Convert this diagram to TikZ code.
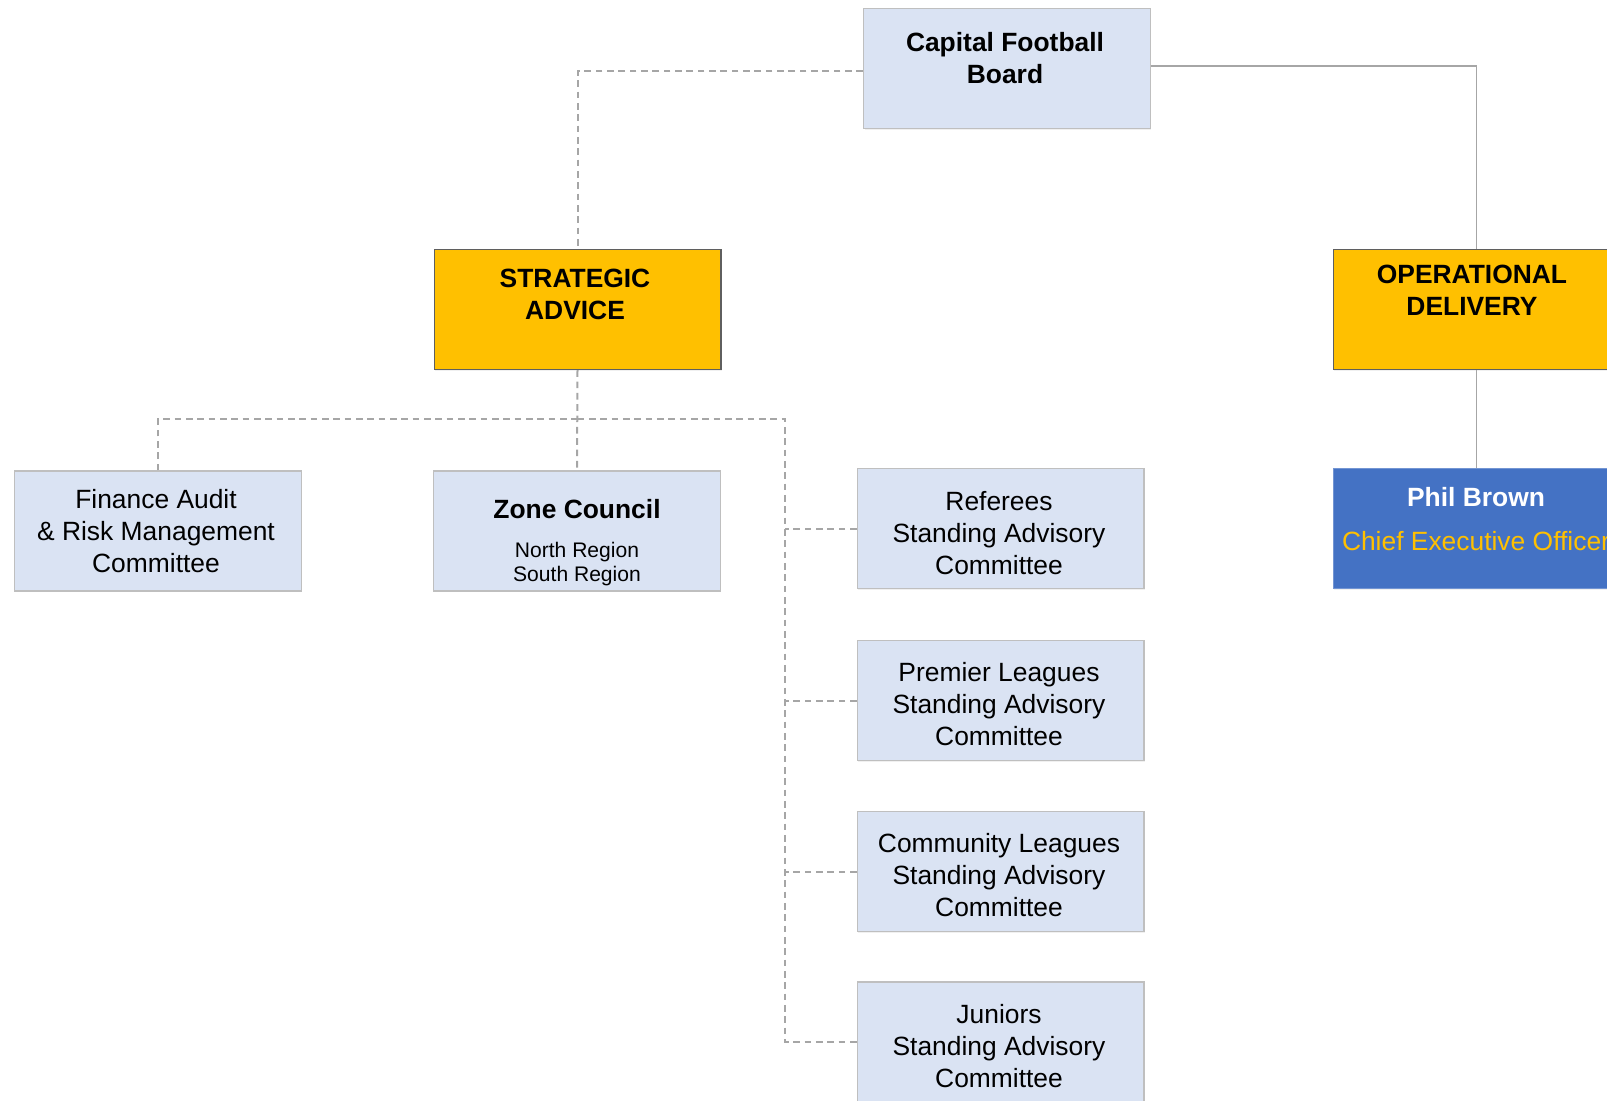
\documentclass[tikz,border=0pt]{standalone}
\usepackage{fontspec}
\setmainfont{Liberation Sans}
\usetikzlibrary{shadows}
\definecolor{boxblue}{HTML}{DAE3F3}
\definecolor{boxline}{HTML}{BFBFBF}
\definecolor{gold}{HTML}{FFC000}
\definecolor{darkline}{HTML}{5F5F5F}
\definecolor{ceoblue}{HTML}{4472C4}
\definecolor{linkgray}{HTML}{A6A6A6}

\begin{document}
\begin{tikzpicture}[x=0.75pt, y=-0.75pt,
  box/.style = {minimum width=215pt, minimum height=90pt, inner sep=0pt, line width=1pt,
                drop shadow={opacity=0.12, shadow xshift=0.8pt, shadow yshift=-0.8pt}},
  lightbox/.style = {box, draw=boxline, fill=boxblue},
  goldbox/.style = {box, draw=darkline, fill=gold},
  ceobox/.style = {box, draw=ceoblue!75!white, fill=ceoblue},
  bigtext/.style = {align=center, inner sep=0pt, font=\fontsize{19.8}{24}\selectfont},
  headtext/.style = {bigtext, font=\fontsize{19.8}{24}\selectfont\bfseries},
  smalltext/.style = {align=center, inner sep=0pt, font=\fontsize{15.8}{18}\selectfont},
  dashlink/.style = {draw=linkgray, line width=1.5pt, dash pattern=on 5pt off 3.5pt},
  solidlink/.style = {draw=linkgray, line width=1pt}]
\useasboundingbox (0,0) rectangle (1607,1100);
\clip (0,0) rectangle (1607,1100);

% boxes
\node[lightbox] (board) at (1007,68.5) {};
\node[goldbox] (strategic) at (577.5,309.5) {};
\node[goldbox] (operational) at (1476.5,309.5) {};
\node[lightbox] (finance) at (158,531) {};
\node[lightbox] (zone) at (577,531) {};
\node[lightbox] (referees) at (1000.5,528.5) {};
\node[lightbox] (premier) at (1000.5,700.5) {};
\node[lightbox] (community) at (1000.5,871.5) {};
\node[lightbox] (juniors) at (1000.5,1042) {};
\node[ceobox] (ceo) at (1476.5,528.5) {};

% texts
\node[headtext] (boardtxt) at (1005,58) {Capital Football\\Board};
\node[headtext] (strategictxt) at (575,294) {STRATEGIC\\ADVICE};
\node[headtext] (operationaltxt) at (1472,290.5) {OPERATIONAL\\DELIVERY};
\node[bigtext] (financetxt) at (156,531) {Finance Audit\\\& Risk Management\\Committee};
\node[headtext] (zonetxt) at (577,509) {Zone Council};
\node[smalltext] (regiontxt) at (577,564) {North Region\\South Region};
\node[bigtext] (refereestxt) at (999,533) {Referees\\Standing Advisory\\Committee};
\node[bigtext] (premiertxt) at (999,704) {Premier Leagues\\Standing Advisory\\Committee};
\node[bigtext] (communitytxt) at (999,875) {Community Leagues\\Standing Advisory\\Committee};
\node[bigtext] (juniorstxt) at (999,1046.5) {Juniors\\Standing Advisory\\Committee};
\node[headtext, text=white] (ceoname) at (1476,497) {Phil Brown};
\node[bigtext, text=gold] (ceorole) at (1476,541) {Chief Executive Officer};

% links
\coordinate (bus) at (577.5,419);
\coordinate (busend) at (785,419);
\draw[dashlink] ([yshift=-2pt]board.west) -| (strategic.north);
\draw[solidlink] ([yshift=2pt]board.east) -| (operational.north);
\draw[solidlink] (operational.south) -- (ceo.north);
\draw[dashlink] (strategic.south) -- (zone.north);
\draw[dashlink] (finance.north) |- (bus);
\draw[dashlink] (bus) -- (busend) |- (juniors.west);
\draw[dashlink] (referees.west) -- (referees.west -| busend);
\draw[dashlink] (premier.west) -- (premier.west -| busend);
\draw[dashlink] (community.west) -- (community.west -| busend);
\end{tikzpicture}
\end{document}
